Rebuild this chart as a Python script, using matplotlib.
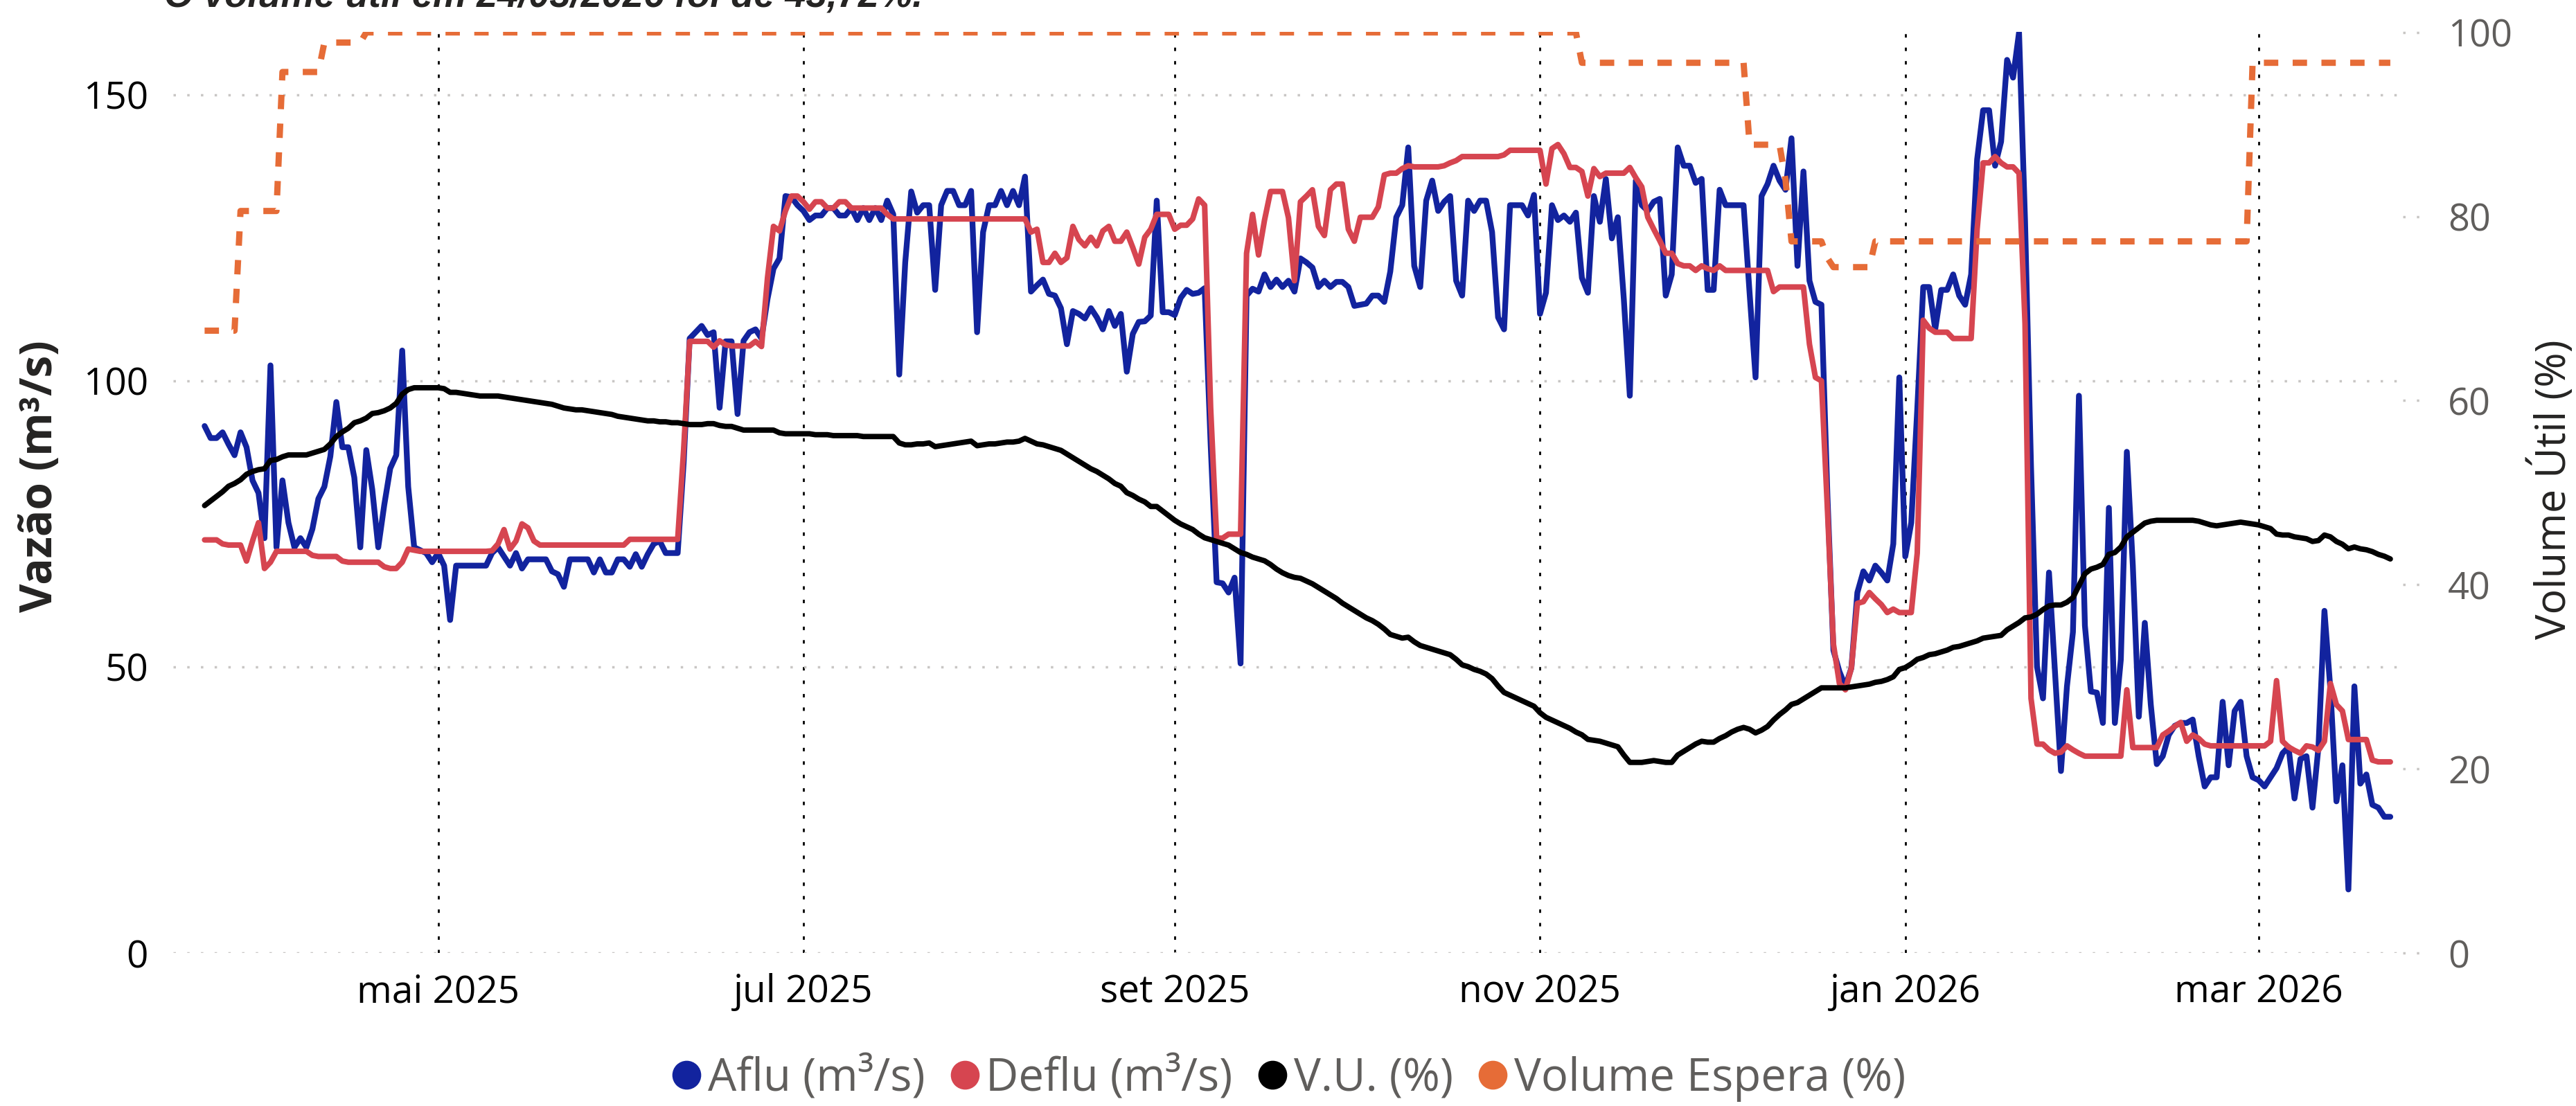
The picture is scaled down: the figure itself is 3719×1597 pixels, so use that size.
import matplotlib
matplotlib.use("Agg")
import matplotlib.pyplot as plt
from matplotlib.lines import Line2D
import pandas as pd

plt.rcParams['font.family'] = ['Open Sans', 'DejaVu Sans']

# ---------------- data (daily, from 23/03/2025) ----------------
start_date = '2025-03-23'

aflu = [
    92.1, 90.0, 90.0, 91.0, 88.9, 87.0, 91.0, 88.4, 82.6, 80.4,
    72.5, 102.7, 70.9, 82.6, 75.2, 70.9, 72.5, 70.9, 74.1, 79.4,
    81.5, 86.8, 96.3, 88.4, 88.4, 83.1, 70.9, 87.9, 81.0, 70.9,
    78.3, 84.7, 87.0, 105.3, 81.5, 70.9, 70.4, 69.9, 68.3, 69.9,
    67.7, 58.2, 67.7, 67.7, 67.7, 67.7, 67.7, 67.7, 69.9, 70.9,
    69.3, 67.7, 69.9, 67.2, 68.8, 68.8, 68.8, 68.8, 66.7, 66.2,
    64.0, 68.8, 68.8, 68.8, 68.8, 66.5, 68.8, 66.5, 66.5, 68.8,
    68.8, 67.5, 69.7, 67.5, 69.7, 71.5, 72.0, 69.9, 69.9, 69.9,
    85.7, 107.4, 108.5, 109.6, 108.0, 108.5, 95.3, 106.9, 106.9, 94.2,
    107.0, 108.5, 109.0, 107.4, 114.3, 119.6, 121.4, 132.3, 132.1, 130.7,
    129.7, 128.1, 128.9, 128.9, 130.2, 130.2, 128.9, 128.9, 130.2, 128.1,
    130.2, 128.1, 130.2, 128.1, 131.5, 129.1, 101.1, 120.7, 133.1, 129.4,
    130.7, 130.7, 115.9, 130.7, 133.2, 133.2, 130.7, 130.7, 133.2, 108.5,
    126.0, 130.7, 130.7, 133.2, 130.7, 133.2, 130.7, 135.7, 115.6, 116.7,
    117.7, 115.2, 114.9, 112.7, 106.4, 112.2, 111.7, 110.9, 112.7, 111.1,
    109.0, 112.2, 109.6, 111.7, 101.6, 108.2, 110.3, 110.4, 111.4, 131.5,
    112.0, 112.0, 111.5, 114.5, 115.9, 115.2, 115.4, 116.2, 89.0, 64.8,
    64.6, 63.0, 65.6, 50.6, 114.9, 116.1, 115.6, 118.6, 116.4, 117.7,
    116.4, 117.5, 115.6, 121.4, 120.7, 119.8, 116.4, 117.5, 116.4, 117.3,
    117.3, 116.4, 113.1, 113.3, 113.5, 114.9, 114.9, 113.8, 119.1, 128.6,
    130.7, 140.8, 120.1, 116.4, 131.5, 135.0, 129.7, 131.3, 132.3, 117.5,
    114.9, 131.5, 129.7, 131.5, 131.5, 126.0, 111.1, 109.0, 130.7, 130.7,
    130.7, 128.9, 132.5, 111.7, 115.4, 130.7, 128.1, 128.9, 127.8, 129.4,
    118.0, 115.4, 132.3, 127.8, 135.3, 124.9, 128.6, 114.3, 97.4, 135.0,
    130.7, 129.7, 131.3, 131.8, 114.9, 118.6, 140.8, 137.6, 137.6, 134.6,
    135.3, 115.9, 115.9, 133.4, 130.7, 130.7, 130.7, 130.7, 115.4, 100.6,
    132.3, 134.4, 137.6, 135.0, 133.4, 142.4, 120.1, 136.6, 117.5, 113.8,
    113.3, 80.0, 52.9, 49.2, 46.6, 49.8, 63.0, 66.7, 65.1, 67.7,
    66.5, 65.1, 71.5, 100.6, 69.3, 75.2, 95.0, 116.4, 116.4, 109.0,
    115.9, 115.9, 118.6, 114.9, 113.3, 118.6, 138.7, 147.3, 147.3, 137.6,
    141.8, 156.1, 153.0, 160.9, 128.0, 85.0, 50.0, 44.5, 66.5, 49.2,
    31.8, 46.6, 56.1, 97.4, 57.2, 45.7, 45.5, 40.2, 77.8, 40.2,
    51.3, 87.6, 67.7, 41.3, 57.7, 43.4, 33.0, 34.4, 38.1, 39.7,
    40.2, 40.2, 40.8, 34.4, 29.1, 30.7, 30.7, 43.9, 32.8, 42.3,
    43.9, 34.4, 30.7, 30.2, 29.1, 30.7, 32.3, 34.9, 36.0, 27.0,
    33.9, 34.4, 25.4, 36.0, 59.8, 46.0, 26.5, 32.8, 11.1, 46.6,
    29.6, 31.2, 25.9, 25.4, 23.8, 23.8,
]

deflu = [
    72.2, 72.2, 72.2, 71.5, 71.3, 71.3, 71.3, 68.5, 72.0, 75.2,
    67.2, 68.3, 70.2, 70.2, 70.2, 70.2, 70.2, 70.2, 69.5, 69.3,
    69.3, 69.3, 69.3, 68.5, 68.3, 68.3, 68.3, 68.3, 68.3, 68.3,
    67.5, 67.2, 67.2, 68.3, 70.6, 70.4, 70.2, 70.2, 70.2, 70.2,
    70.2, 70.2, 70.2, 70.2, 70.2, 70.2, 70.2, 70.2, 70.3, 71.5,
    74.0, 70.6, 72.0, 75.0, 74.3, 72.0, 71.3, 71.3, 71.3, 71.3,
    71.3, 71.3, 71.3, 71.3, 71.3, 71.3, 71.3, 71.3, 71.3, 71.3,
    71.3, 72.3, 72.3, 72.3, 72.3, 72.3, 72.3, 72.3, 72.3, 72.3,
    88.0, 106.9, 106.9, 106.9, 106.9, 105.9, 107.0, 106.3, 106.1, 106.1,
    106.1, 106.1, 106.9, 106.0, 118.0, 127.0, 126.2, 129.7, 132.3, 132.3,
    131.3, 130.0, 131.3, 131.3, 130.2, 130.2, 131.3, 131.3, 130.2, 130.2,
    130.2, 130.2, 130.2, 130.2, 129.1, 128.3, 128.3, 128.3, 128.3, 128.3,
    128.3, 128.3, 128.3, 128.3, 128.3, 128.3, 128.3, 128.3, 128.3, 128.3,
    128.3, 128.3, 128.3, 128.3, 128.3, 128.3, 128.3, 128.3, 126.0, 126.5,
    120.7, 120.7, 122.3, 120.7, 121.5, 127.0, 124.7, 123.6, 125.1, 123.6,
    126.2, 127.0, 124.4, 124.4, 126.0, 123.3, 120.4, 125.1, 126.5, 129.1,
    129.1, 129.1, 126.5, 127.2, 127.2, 128.3, 131.8, 130.7, 95.3, 72.5,
    72.5, 73.2, 73.2, 73.2, 122.3, 129.1, 122.0, 128.1, 133.1, 133.1,
    133.1, 128.5, 117.5, 131.3, 132.3, 133.4, 127.0, 125.4, 133.4, 134.4,
    134.4, 126.5, 124.4, 128.6, 128.6, 128.6, 130.4, 136.0, 136.3, 136.3,
    137.1, 137.6, 137.4, 137.4, 137.4, 137.4, 137.4, 137.6, 138.1, 138.5,
    139.2, 139.2, 139.2, 139.2, 139.2, 139.2, 139.2, 139.5, 140.3, 140.3,
    140.3, 140.3, 140.3, 140.3, 134.4, 140.6, 141.3, 139.7, 137.3, 137.3,
    136.6, 132.3, 137.1, 135.7, 136.3, 136.3, 136.3, 136.3, 137.3, 135.5,
    133.9, 128.6, 126.5, 124.5, 122.3, 122.3, 120.5, 120.1, 120.1, 119.3,
    120.1, 119.6, 119.3, 120.1, 119.3, 119.3, 119.3, 119.3, 119.3, 119.3,
    119.3, 119.3, 115.6, 116.4, 116.4, 116.4, 116.4, 116.4, 106.4, 100.6,
    100.0, 77.6, 54.0, 47.1, 46.0, 49.8, 61.1, 61.4, 63.0, 61.9,
    60.9, 59.5, 60.1, 59.5, 59.5, 59.5, 69.9, 110.6, 109.2, 108.5,
    108.5, 108.5, 107.4, 107.4, 107.4, 107.4, 126.5, 138.1, 138.1, 139.2,
    138.1, 137.4, 137.4, 136.3, 110.0, 44.5, 36.5, 36.5, 35.5, 34.9,
    35.1, 36.2, 35.5, 34.9, 34.4, 34.4, 34.4, 34.4, 34.4, 34.4,
    34.4, 46.0, 35.9, 35.9, 35.9, 35.9, 35.9, 38.1, 38.8, 39.6,
    40.3, 37.0, 38.1, 37.5, 36.5, 36.2, 36.2, 36.2, 36.2, 36.2,
    36.2, 36.2, 36.2, 36.2, 36.2, 37.0, 47.6, 37.0, 36.0, 35.4,
    34.9, 36.2, 36.0, 35.4, 37.0, 47.1, 43.4, 42.3, 37.3, 37.3,
    37.3, 37.3, 33.7, 33.4, 33.4, 33.4,
]

vu = [
    48.6, 49.1, 49.6, 50.1, 50.7, 51.0, 51.4, 52.0, 52.3, 52.5,
    52.6, 53.5, 53.6, 53.9, 54.1, 54.1, 54.1, 54.1, 54.3, 54.5,
    54.7, 55.3, 56.1, 56.6, 57.0, 57.6, 57.8, 58.1, 58.6, 58.7,
    58.9, 59.2, 59.7, 60.7, 61.2, 61.4, 61.4, 61.4, 61.4, 61.4,
    61.3, 60.9, 60.9, 60.8, 60.7, 60.6, 60.5, 60.5, 60.5, 60.5,
    60.4, 60.3, 60.2, 60.1, 60.0, 59.9, 59.8, 59.7, 59.6, 59.4,
    59.2, 59.1, 59.0, 59.0, 58.9, 58.8, 58.7, 58.6, 58.5, 58.3,
    58.2, 58.1, 58.0, 57.9, 57.8, 57.8, 57.7, 57.7, 57.6, 57.6,
    57.5, 57.4, 57.4, 57.4, 57.5, 57.5, 57.3, 57.2, 57.2, 57.0,
    56.8, 56.8, 56.8, 56.8, 56.8, 56.8, 56.5, 56.4, 56.4, 56.4,
    56.4, 56.4, 56.3, 56.3, 56.3, 56.2, 56.2, 56.2, 56.2, 56.2,
    56.1, 56.1, 56.1, 56.1, 56.1, 56.1, 55.4, 55.2, 55.2, 55.3,
    55.3, 55.4, 55.0, 55.1, 55.2, 55.3, 55.4, 55.5, 55.6, 55.1,
    55.2, 55.3, 55.3, 55.4, 55.5, 55.5, 55.6, 55.9, 55.6, 55.3,
    55.2, 55.0, 54.8, 54.6, 54.2, 53.8, 53.4, 53.0, 52.6, 52.3,
    51.9, 51.5, 51.0, 50.7, 50.0, 49.7, 49.3, 49.0, 48.5, 48.5,
    48.0, 47.5, 47.0, 46.6, 46.3, 46.0, 45.5, 45.1, 44.9, 44.7,
    44.5, 44.3, 43.9, 43.5, 43.3, 43.0, 42.8, 42.6, 42.2, 41.7,
    41.3, 41.0, 40.8, 40.7, 40.4, 40.1, 39.7, 39.3, 38.9, 38.5,
    38.0, 37.6, 37.2, 36.8, 36.4, 36.1, 35.7, 35.2, 34.6, 34.4,
    34.2, 34.3, 33.8, 33.4, 33.2, 33.0, 32.8, 32.6, 32.4, 31.9,
    31.3, 31.1, 30.8, 30.6, 30.3, 29.8, 29.0, 28.3, 28.0, 27.7,
    27.4, 27.1, 26.8, 26.1, 25.6, 25.3, 25.0, 24.7, 24.4, 24.0,
    23.7, 23.2, 23.1, 23.0, 22.8, 22.6, 22.4, 21.5, 20.7, 20.7,
    20.7, 20.8, 20.9, 20.8, 20.7, 20.7, 21.5, 21.9, 22.3, 22.7,
    23.0, 22.9, 22.9, 23.3, 23.6, 24.0, 24.3, 24.5, 24.3, 23.9,
    24.2, 24.6, 25.3, 25.9, 26.4, 27.0, 27.2, 27.6, 28.0, 28.4,
    28.8, 28.8, 28.8, 28.8, 28.8, 28.9, 29.0, 29.1, 29.2, 29.4,
    29.5, 29.7, 30.0, 30.8, 31.0, 31.4, 31.9, 32.1, 32.4, 32.5,
    32.7, 32.9, 33.2, 33.3, 33.5, 33.7, 33.9, 34.2, 34.3, 34.4,
    34.5, 35.1, 35.5, 35.9, 36.4, 36.5, 36.8, 37.3, 37.7, 37.8,
    37.8, 38.1, 38.6, 39.9, 41.2, 41.7, 41.9, 42.2, 43.3, 43.5,
    44.1, 45.2, 45.7, 46.2, 46.7, 46.9, 47.0, 47.0, 47.0, 47.0,
    47.0, 47.0, 47.0, 46.9, 46.7, 46.5, 46.4, 46.5, 46.6, 46.7,
    46.8, 46.7, 46.6, 46.5, 46.3, 46.1, 45.5, 45.4, 45.4, 45.2,
    45.1, 45.0, 44.7, 44.8, 45.4, 45.2, 44.7, 44.4, 43.9, 44.1,
    43.9, 43.8, 43.6, 43.3, 43.1, 42.8,
]

# Volume Espera: vertices of the (daily) line where it changes
esp_dates = ['2025-03-23', '2025-03-28', '2025-03-29', '2025-04-04', '2025-04-05',
             '2025-04-11', '2025-04-12', '2025-04-18', '2025-04-19', '2025-11-07',
             '2025-11-08', '2025-12-05', '2025-12-06', '2025-12-11', '2025-12-12',
             '2025-12-13', '2025-12-18', '2025-12-19', '2025-12-20', '2025-12-26',
             '2025-12-27', '2026-02-27', '2026-02-28', '2026-03-23']
esp_values = [67.6, 67.6, 80.6, 80.6, 95.7,
              95.7, 98.9, 98.9, 100.0, 100.0,
              96.7, 96.7, 87.8, 87.8, 84.0,
              77.3, 77.3, 75.5, 74.5, 74.5,
              77.3, 77.3, 96.7, 96.7]

month_ticks = ['2025-05-01', '2025-07-01', '2025-09-01', '2025-11-01', '2026-01-01', '2026-03-01']
month_labels = ['mai 2025', 'jul 2025', 'set 2025', 'nov 2025', 'jan 2026', 'mar 2026']
left_ticks = [0, 50, 100, 150]
right_ticks = [0, 20, 40, 60, 80, 100]
series_names = ['Aflu (m³/s)', 'Deflu (m³/s)', 'V.U. (%)', 'Volume Espera (%)']
series_colors = ['#12239E', '#D64550', '#000000', '#E66C37']
title_text = 'O volume útil em 24/03/2026 foi de 43,72%.'

for name, s in (('aflu', aflu), ('deflu', deflu), ('vu', vu)):
    if len(s) != 366:
        raise ValueError(f'{name} has {len(s)} values')

dates = pd.date_range(start_date, periods=len(aflu), freq='D')

# ---------------- figure ----------------
W, H = 3719, 1597
fig = plt.figure(figsize=(W / 100, H / 100), dpi=100)
ax = fig.add_axes([250 / W, 1 - 1376 / H, (3476 - 250) / W, (1376 - 46) / H])
ax2 = ax.twinx()

ax.plot(dates, aflu, color=series_colors[0], lw=6.0, solid_joinstyle='round', solid_capstyle='round', zorder=3)
ax.plot(dates, deflu, color=series_colors[1], lw=5.8, solid_joinstyle='round', solid_capstyle='round', zorder=4)
ax2.plot(dates, vu, color=series_colors[2], lw=5.6, solid_joinstyle='round', solid_capstyle='round', zorder=3)
ax2.plot(pd.to_datetime(esp_dates), esp_values, color=series_colors[3], lw=6.5,
         linestyle=(0, (2.3, 2.3)), zorder=4)

ax.set_xlim(dates[0] - pd.Timedelta(days=5.25), dates[0] + pd.Timedelta(days=367.9))
ax.set_ylim(0, 161.0)
ax2.set_ylim(0, 100.06)

ax.set_xticks(pd.to_datetime(month_ticks))
ax.set_xticklabels(month_labels)
ax.set_yticks(left_ticks)
ax2.set_yticks(right_ticks)

ax.tick_params(axis='x', length=0, pad=21, labelsize=39.5, labelcolor='#000000')
ax.tick_params(axis='y', length=0, pad=26, labelsize=39.5, labelcolor='#000000')
ax2.tick_params(axis='y', length=0, pad=42, labelsize=39, labelcolor='#605E5C')

ax.set_axisbelow(True)
ax.grid(axis='y', color='#C8C6C4', linestyle=(0, (1, 4.7)), linewidth=2.5)
ax.grid(axis='x', color='#000000', linestyle=(0, (1.8, 5.2)), linewidth=2.0)

for a in (ax, ax2):
    for sp in a.spines.values():
        sp.set_visible(False)

# short dotted stubs next to the right-axis labels
ax2.hlines(right_ticks, 0.9978, 1.0055, transform=ax2.get_yaxis_transform(),
           colors='#C8C6C4', linestyles=(0, (1, 4.7)), linewidth=2.5, clip_on=False)

# axis titles
fig.text(59 / W, 1 - 688 / H, 'Vazão (m³/s)', rotation=90, fontsize=46, fontweight='bold',
         ha='center', va='center', color='#252423')
fig.text(3684 / W, 1 - 707 / H, 'Volume Útil (%)', rotation=90, fontsize=44,
         ha='center', va='center', color='#252423')

# title, clipped at the very top as in the original
fig.text(237 / W, 1 - 10 / H, title_text, fontsize=39, fontweight='bold', fontstyle='italic',
         family=['Liberation Sans Narrow', 'Liberation Sans', 'DejaVu Sans'],
         ha='left', va='baseline', color='#252423')

# legend
handles = [Line2D([], [], marker='o', linestyle='', color=c, markersize=29) for c in series_colors]
fig.legend(handles, series_names, loc='center', bbox_to_anchor=(0.5004, 39 / H), ncol=4,
           frameon=False, fontsize=47, labelcolor='#605E5C', handlelength=0.62,
           handletextpad=0.16, columnspacing=0.57, borderpad=0, borderaxespad=0)

fig.savefig('out.png', dpi=100)
